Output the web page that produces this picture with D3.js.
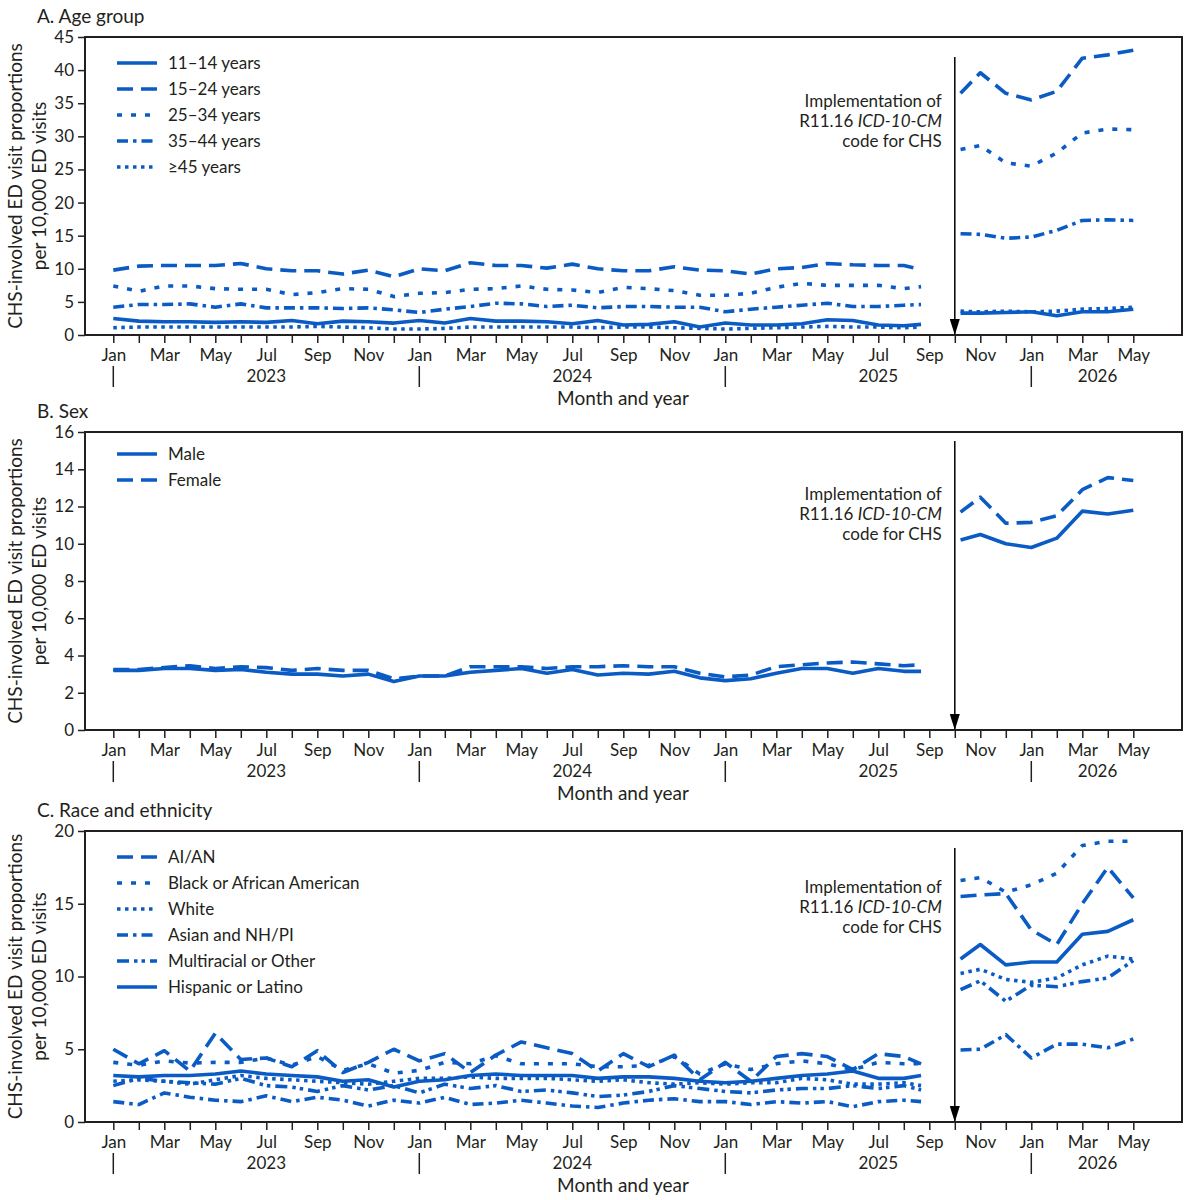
<!DOCTYPE html>
<html>
<head>
<meta charset="utf-8">
<script src="https://cdn.jsdelivr.net/npm/d3@7"></script>
<style>
  body { margin: 0; background: #fff; }
  text { font-family: Lato, "Open Sans", sans-serif; fill: #231f20; }
</style>
</head>
<body>
<div id="chart"></div>
<script>
// ---- data ----
const monthNames = ["Jan","Feb","Mar","Apr","May","Jun","Jul","Aug","Sep","Oct","Nov","Dec"];
const yearLabels = ["2023","2024","2025","2026"];

// pre-implementation points (monthly, last one is a partial month)
const preDates = d3.timeMonth.range(new Date(2023, 0, 1), new Date(2025, 7, 2))
  .map(d3.timeFormat("%Y-%m-%d"))
  .concat(["2025-08-22"]);
const postDates = ["2025-10-08","2025-11-01","2025-12-01","2026-01-01","2026-02-01","2026-03-01","2026-04-01","2026-05-01"];

// A. Age group
const ageGroups = ["11–14 years","15–24 years","25–34 years","35–44 years","≥45 years"];
const age11to14Pre = [2.5,2.1,2.0,2.0,1.9,2.0,1.9,2.2,1.7,2.1,2.0,1.8, 2.2,1.8,2.5,2.1,2.1,2.0,1.7,2.2,1.5,1.6,2.0,1.2, 1.8,1.5,1.5,1.7,2.3,2.2,1.5,1.4,1.6];
const age15to24Pre = [9.8,10.4,10.5,10.5,10.5,10.8,10.0,9.7,9.7,9.2,9.8,8.8, 10.0,9.7,10.9,10.5,10.5,10.1,10.7,10.0,9.7,9.7,10.3,9.8, 9.7,9.2,10.0,10.2,10.8,10.6,10.5,10.5,9.9];
const age25to34Pre = [7.4,6.6,7.4,7.4,7.0,6.9,6.9,6.1,6.4,7.0,6.9,5.8, 6.3,6.4,6.9,7.0,7.4,6.9,6.8,6.4,7.2,7.0,6.7,6.0, 6.0,6.3,7.2,7.8,7.5,7.5,7.5,7.0,7.3];
const age35to44Pre = [4.2,4.6,4.6,4.7,4.2,4.7,4.1,4.1,4.1,4.0,4.1,3.8, 3.4,3.9,4.3,4.8,4.7,4.3,4.5,4.1,4.3,4.3,4.2,4.2, 3.5,3.9,4.2,4.5,4.8,4.3,4.3,4.5,4.6];
const age45upPre   = [1.1,1.2,1.2,1.2,1.2,1.2,1.2,1.2,1.3,1.2,1.1,0.9, 0.9,1.0,1.2,1.2,1.2,1.2,1.2,1.1,1.2,1.2,1.1,1.0, 0.9,1.0,1.1,1.2,1.3,1.2,1.2,1.1,1.2];
const age11to14Post = [3.3,3.3,3.4,3.5,2.9,3.5,3.5,3.9];
const age15to24Post = [36.5,39.6,36.5,35.5,36.8,41.8,42.3,43.0];
const age25to34Post = [28.0,28.6,26.0,25.5,27.5,30.5,31.1,31.0];
const age35to44Post = [15.3,15.2,14.6,14.8,15.8,17.3,17.4,17.3];
const age45upPost   = [3.6,3.5,3.6,3.5,3.6,3.9,4.0,4.2];

// B. Sex
const sexGroups = ["Male","Female"];
const malePre   = [3.2,3.2,3.3,3.3,3.2,3.25,3.1,3.0,3.0,2.9,3.0,2.6, 2.9,2.9,3.1,3.2,3.3,3.05,3.25,2.95,3.05,3.0,3.15,2.8, 2.65,2.75,3.05,3.3,3.3,3.05,3.3,3.15,3.15];
const femalePre = [3.25,3.25,3.35,3.45,3.3,3.4,3.35,3.2,3.3,3.2,3.2,2.75, 2.9,2.9,3.4,3.4,3.4,3.3,3.4,3.4,3.45,3.4,3.4,3.05, 2.85,2.95,3.4,3.5,3.6,3.65,3.55,3.45,3.5];
const malePost   = [10.2,10.5,10.0,9.8,10.3,11.75,11.6,11.8];
const femalePost = [11.7,12.5,11.1,11.15,11.5,12.9,13.55,13.4];

// C. Race and ethnicity
const raceGroups = ["AI/AN","Black or African American","White","Asian and NH/PI","Multiracial or Other","Hispanic or Latino"];
const aianPre     = [5.0,4.0,4.9,3.5,6.1,4.3,4.4,3.8,4.9,3.4,4.1,5.0, 4.2,4.7,3.4,4.6,5.5,5.1,4.7,3.5,4.7,3.8,4.6,2.9, 4.1,2.8,4.5,4.7,4.5,3.6,4.7,4.5,4.0];
const blackPre    = [4.1,3.9,4.2,4.05,4.1,4.1,4.4,3.9,4.5,3.55,4.0,3.35, 3.55,4.1,4.0,4.55,4.0,4.0,4.0,3.8,3.8,3.9,4.5,3.3, 4.0,3.6,4.0,4.2,4.0,3.6,4.1,4.0,4.0];
const whitePre    = [2.8,2.9,2.8,2.6,2.9,3.2,3.0,2.9,2.8,2.7,2.6,2.8, 3.0,3.0,3.1,3.0,3.0,3.0,2.9,2.8,2.9,2.7,2.6,2.7, 2.6,2.7,2.7,3.0,2.9,2.6,2.6,2.7,2.5];
const asianPre    = [1.4,1.2,2.0,1.7,1.5,1.4,1.8,1.4,1.7,1.5,1.1,1.5, 1.3,1.7,1.2,1.3,1.5,1.3,1.1,1.0,1.3,1.5,1.6,1.4, 1.4,1.2,1.4,1.3,1.4,1.05,1.4,1.5,1.4];
const multiPre    = [2.5,3.0,2.8,2.7,2.6,3.0,2.5,2.4,2.1,2.5,2.2,2.5, 2.0,2.6,2.3,2.5,2.1,2.2,2.0,1.75,1.85,2.1,2.5,2.3, 2.1,2.0,2.2,2.3,2.3,2.5,2.3,2.5,2.2];
const hispanicPre = [3.2,3.1,3.2,3.2,3.3,3.5,3.3,3.2,3.1,2.8,2.9,2.4, 2.8,2.9,3.2,3.3,3.2,3.2,3.2,3.0,3.1,3.1,3.0,2.8, 2.7,2.8,3.0,3.2,3.3,3.5,3.0,3.0,3.2];
const aianPost     = [15.5,15.6,15.7,13.2,12.2,15.0,17.5,15.4];
const blackPost    = [16.6,16.8,15.8,16.3,17.1,19.0,19.3,19.3];
const whitePost    = [10.2,10.5,9.8,9.6,9.9,10.8,11.4,11.2];
const asianPost    = [4.95,5.0,6.0,4.4,5.35,5.35,5.1,5.7];
const multiPost    = [9.1,9.7,8.3,9.4,9.3,9.65,9.9,11.1];
const hispanicPost = [11.2,12.2,10.8,11.0,11.0,12.9,13.1,13.9];

// ---- styles ----
const blue = "#0a5bc4";
const dash = {
  solid: null,
  long: "16,8",
  short: "5,9",
  dot: "3.5,4.5",
  dashDot: "11,5,3.5,5",
  dashDotDot: "12,5,3.5,4,3.5,5"
};

const panels = [
  { title: "A. Age group", top: 37, bottom: 335, yMax: 45, yStep: 5, arrowTop: 57, noteY: 101, legendY: 63,
    names: ageGroups, styles: ["solid","long","short","dashDot","dot"],
    pre: [age11to14Pre, age15to24Pre, age25to34Pre, age35to44Pre, age45upPre],
    post: [age11to14Post, age15to24Post, age25to34Post, age35to44Post, age45upPost] },
  { title: "B. Sex", top: 432, bottom: 730, yMax: 16, yStep: 2, arrowTop: 441, noteY: 494, legendY: 454,
    names: sexGroups, styles: ["solid","long"],
    pre: [malePre, femalePre], post: [malePost, femalePost] },
  { title: "C. Race and ethnicity", top: 831, bottom: 1122, yMax: 20, yStep: 5, arrowTop: 848, noteY: 887, legendY: 857,
    names: raceGroups, styles: ["long","short","dot","dashDot","dashDotDot","solid"],
    pre: [aianPre, blackPre, whitePre, asianPre, multiPre, hispanicPre],
    post: [aianPost, blackPost, whitePost, asianPost, multiPost, hispanicPost] }
];

// ---- layout ----
const width = 1185, height = 1200;
const boxLeft = 85, boxRight = 1182;
const fontFam = "Lato, 'Open Sans', sans-serif";

const parse = d3.timeParse("%Y-%m-%d");
// fractional month index, Jan 2023 = 0
function monthIndex(s) {
  const d = parse(s);
  const dim = new Date(d.getFullYear(), d.getMonth() + 1, 0).getDate();
  return (d.getFullYear() - 2023) * 12 + d.getMonth() + (d.getDate() - 1) / dim;
}
const x = d3.scaleLinear().domain([0, 40]).range([113.3, 1133.3]);
const implIndex = monthIndex("2025-10-01");

const svg = d3.select("#chart").append("svg")
  .attr("width", width).attr("height", height);

// arrowhead, drawn along +x so orient=auto turns it down the line
svg.append("defs").append("marker")
  .attr("id", "arrow")
  .attr("viewBox", "0 0 16 10")
  .attr("refX", 16).attr("refY", 5)
  .attr("markerWidth", 16).attr("markerHeight", 10)
  .attr("markerUnits", "userSpaceOnUse")
  .attr("orient", "auto")
  .append("path").attr("d", "M0,0 L16,5 L0,10 Z").attr("fill", "#000");

const line = d3.line().x(d => x(d.i)).y(d => d.y);

panels.forEach(p => {
  const y = d3.scaleLinear().domain([0, p.yMax]).range([p.bottom, p.top]);
  const g = svg.append("g");

  // panel title
  g.append("text").attr("x", 37).attr("y", p.top - 14)
    .attr("font-size", 19).text(p.title);

  // y axis ticks
  const yAxis = g.append("g").attr("transform", `translate(${boxLeft},0)`)
    .call(d3.axisLeft(y).tickValues(d3.range(0, p.yMax + 0.01, p.yStep)).tickSize(7).tickPadding(4));
  yAxis.select(".domain").remove();
  yAxis.selectAll("line").attr("stroke", "#231f20").attr("stroke-width", 1.5);
  yAxis.selectAll("text").attr("font-size", 17).attr("font-family", fontFam).attr("fill", "#231f20");

  // x axis ticks
  const xAxis = g.append("g").attr("transform", `translate(0,${p.bottom})`)
    .call(d3.axisBottom(x).tickValues(d3.range(0, 41)).tickSize(8).tickPadding(6)
      .tickFormat(i => i % 2 === 0 ? monthNames[i % 12] : ""));
  xAxis.select(".domain").remove();
  xAxis.selectAll("line").attr("stroke", "#231f20").attr("stroke-width", 1.5);
  xAxis.selectAll("text").attr("font-size", 17).attr("font-family", fontFam).attr("fill", "#231f20");

  // year separators and labels
  yearLabels.forEach((yr, k) => {
    g.append("line")
      .attr("x1", x(k * 12)).attr("x2", x(k * 12))
      .attr("y1", p.bottom + 31).attr("y2", p.bottom + 52)
      .attr("stroke", "#231f20").attr("stroke-width", 1.5);
    const mid = k < 3 ? k * 12 + 6 : k * 12 + 2.6;
    g.append("text").attr("x", x(mid)).attr("y", p.bottom + 47)
      .attr("text-anchor", "middle").attr("font-size", 17).text(yr);
  });
  g.append("text").attr("x", 623).attr("y", p.bottom + 70)
    .attr("text-anchor", "middle").attr("font-size", 19).text("Month and year");

  // y axis title
  const midY = (p.top + p.bottom) / 2;
  g.append("text").attr("transform", `translate(22,${midY}) rotate(-90)`)
    .attr("text-anchor", "middle").attr("font-size", 19).text("CHS-involved ED visit proportions");
  g.append("text").attr("transform", `translate(46,${midY}) rotate(-90)`)
    .attr("text-anchor", "middle").attr("font-size", 19).text("per 10,000 ED visits");

  // series
  p.names.forEach((name, s) => {
    const segs = [
      preDates.map((dt, j) => ({ i: monthIndex(dt), y: y(p.pre[s][j]) })),
      postDates.map((dt, j) => ({ i: monthIndex(dt), y: y(p.post[s][j]) }))
    ];
    segs.forEach(seg => {
      g.append("path").attr("d", line(seg))
        .attr("fill", "none").attr("stroke", blue).attr("stroke-width", 3.6)
        .attr("stroke-dasharray", dash[p.styles[s]])
        .attr("stroke-linejoin", "round");
    });

    // legend
    const ly = p.legendY + s * 26;
    g.append("line").attr("x1", 117).attr("x2", 157).attr("y1", ly).attr("y2", ly)
      .attr("stroke", blue).attr("stroke-width", 3.6)
      .attr("stroke-dasharray", dash[p.styles[s]]);
    g.append("text").attr("x", 168).attr("y", ly + 6).attr("font-size", 17).text(name);
  });

  // implementation arrow
  g.append("line")
    .attr("x1", x(implIndex)).attr("x2", x(implIndex))
    .attr("y1", p.arrowTop).attr("y2", p.bottom)
    .attr("stroke", "#000").attr("stroke-width", 1.5)
    .attr("marker-end", "url(#arrow)");

  const note = g.append("text").attr("text-anchor", "end").attr("font-size", 17);
  note.append("tspan").attr("x", x(implIndex) - 13).attr("y", p.noteY + 6).text("Implementation of");
  const l2 = note.append("tspan").attr("x", x(implIndex) - 13).attr("y", p.noteY + 26);
  l2.append("tspan").text("R11.16 ");
  l2.append("tspan").attr("font-style", "italic").text("ICD-10-CM");
  note.append("tspan").attr("x", x(implIndex) - 13).attr("y", p.noteY + 46).text("code for CHS");

  // frame
  g.append("rect").attr("x", boxLeft).attr("y", p.top)
    .attr("width", boxRight - boxLeft).attr("height", p.bottom - p.top)
    .attr("fill", "none").attr("stroke", "#231f20").attr("stroke-width", 2);
});
</script>
</body>
</html>
